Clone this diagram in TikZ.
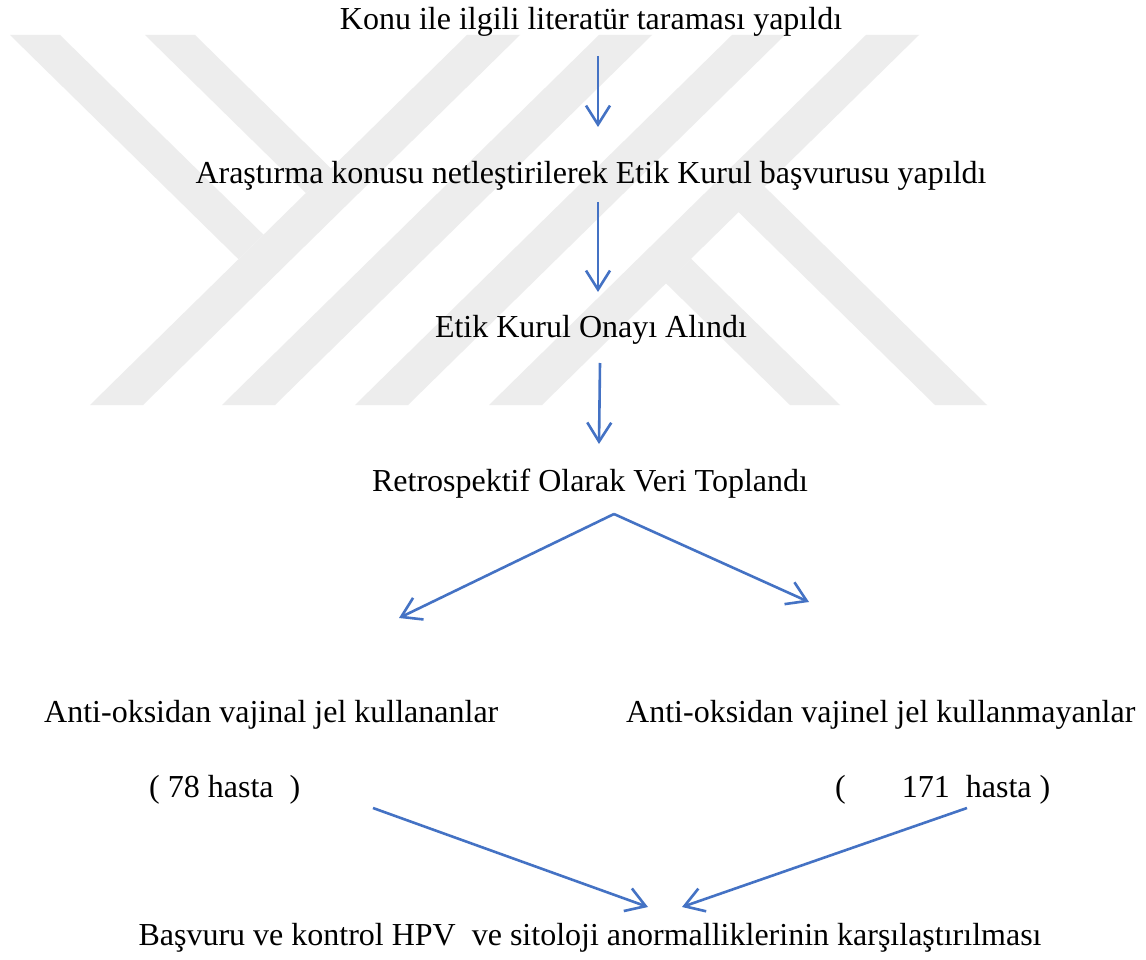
\documentclass[tikz,border=0pt]{standalone}
\usepackage{fontspec}
\setmainfont{Liberation Serif}
\usetikzlibrary{arrows.meta,calc}
\definecolor{arrowblue}{RGB}{68,114,196}
\definecolor{wmgray}{RGB}{237,237,237}
\begin{document}
\begin{tikzpicture}[x=1pt,y=-1pt,
  lbl/.style={inner sep=0pt, anchor=base, font=\fontsize{32}{38}\selectfont},
  arr/.style={draw=arrowblue, line width=2.6pt,
    -{Straight Barb[length=19pt,width=24pt,line width=2.6pt]}},
  wm/.style={fill=wmgray, draw=none}]
\fill[white] (0,0) rectangle (1146,960);
\useasboundingbox (0,0) rectangle (1146,960);
% watermark
\fill[wm] (10,35) -- (60,35) -- (263.5,234.7) -- (238.5,259.2) -- cycle;
\fill[wm] (145,35) -- (195,35) -- (331,168.5) -- (306,193) -- cycle;
\fill[wm] (467,35) -- (520,35) -- (143,405) -- (90,405) -- cycle;
\fill[wm] (599,35) -- (652,35) -- (275,405) -- (222,405) -- cycle;
\fill[wm] (732,35) -- (785,35) -- (408,405) -- (355,405) -- cycle;
\fill[wm] (866,35) -- (919,35) -- (542,405) -- (489,405) -- cycle;
\fill[wm] (738,160.6) -- (987,405) -- (935,405) -- (712,186) -- cycle;
\fill[wm] (691,258.7) -- (840,405) -- (790,405) -- (666,283.3) -- cycle;
% texts
\node[lbl] (n1) at (591,30) {Konu ile ilgili literatür taraması yapıldı};
\node[lbl] (n2) at (591,184) {Araştırma konusu netleştirilerek Etik Kurul başvurusu yapıldı};
\node[lbl] (n3) at (591,337) {Etik Kurul Onayı Alındı};
\node[lbl] (n4) at (590,491) {Retrospektif Olarak Veri Toplandı};
\node[lbl, anchor=base west] (n5) at (44,722) {Anti-oksidan vajinal jel kullananlar};
\node[lbl, anchor=base west] (n6) at (626,722) {Anti-oksidan vajinel jel kullanmayanlar};
\node[lbl, anchor=base west] (n7) at (149,797) {( 78 hasta~~)};
\node[lbl, anchor=base west] (n8) at (835,797) {(\hspace{56pt}171\hspace{16pt}hasta )};
\node[lbl] (n9) at (590,945) {Başvuru ve kontrol HPV~~ve sitoloji anormalliklerinin karşılaştırılması};
% connectors
\draw[arr] ($(n1.base)+(7,26)$) -- ($(n2.base)+(7,-57)$);
\draw[arr] ($(n2.base)+(7,18)$) -- ($(n3.base)+(7,-45)$);
\draw[arr] ($(n3.base)+(9,26)$) -- ($(n4.base)+(9,-47)$);
\coordinate (split) at ($(n4.base)+(24,23)$);
\draw[arr] (split) -- ($(n5.base west)+(355,-104)$);
\draw[arr] (split) -- ($(n6.base west)+(183,-120)$);
\draw[arr] ($(n7.base west)+(224,11)$) -- ($(n9.base)+(58,-38)$);
\draw[arr] ($(n8.base west)+(132,11)$) -- ($(n9.base)+(92,-38)$);
\end{tikzpicture}
\end{document}
